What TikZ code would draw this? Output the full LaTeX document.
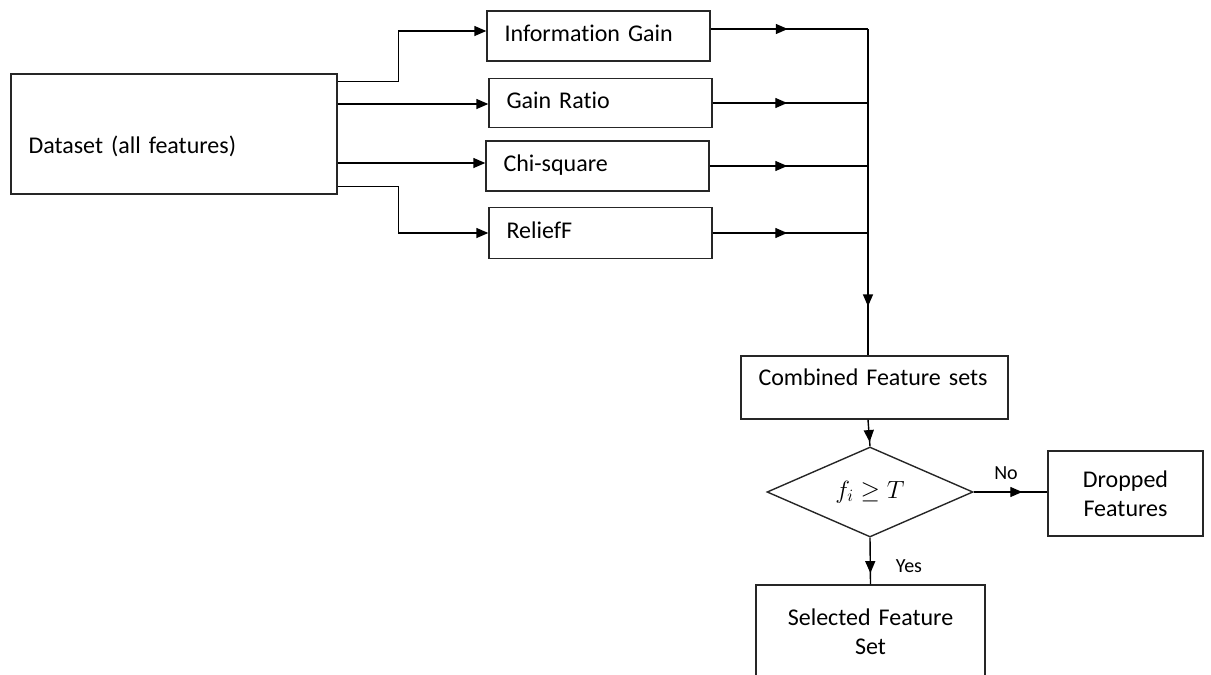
\documentclass[tikz,border=0pt]{standalone}
\usepackage{fontspec}
\setmainfont[Ligatures=NoCommon]{Carlito}
\usetikzlibrary{arrows.meta,calc,shapes.geometric,decorations.markings}
\begin{document}
\begin{tikzpicture}[x=1pt,y=-1pt,
  box/.style={draw=black!85, line width=1.4pt, inner ysep=0pt, inner xsep=17.5pt, align=left, font=\fontsize{24}{29}\selectfont},
  smallbox/.style={box, minimum width=223pt, text width=188pt, text height=16pt, text depth=6pt},
  conn/.style={draw=black, line width=1.4pt},
  arr/.style={conn, -{Triangle[length=12pt,width=10pt]}},
  midarr/.style={conn, postaction={decorate}, decoration={markings, mark=at position #1 with {\arrow{Triangle[length=12pt,width=10pt]}}}},
  lbl/.style={font=\fontsize{20}{24}\selectfont, inner sep=0pt}
]
\useasboundingbox (0,0) rectangle (1211,675);
\clip (0,0) rectangle (1211,675);

% nodes
\node[box, minimum width=326pt, minimum height=120pt, text width=291pt, text height=38pt, text depth=0pt] (DS) at (174,134) {Dataset (all features)};
\node[smallbox, minimum height=50pt] (IG) at (598.5,36) {Information Gain};
\node[smallbox, minimum height=49pt] (GR) at (600.5,103) {Gain Ratio};
\node[smallbox, minimum height=50pt] (CS) at (597.5,166) {Chi-square};
\node[smallbox, minimum height=51pt] (RF) at (600.5,233) {ReliefF};
\node[box, minimum width=267pt, text width=232pt, minimum height=63pt, text height=0pt, text depth=5pt] (CF) at (874.5,387.5) {Combined Feature sets};
\node[draw=black!85, line width=1.4pt, diamond, aspect=2.29, minimum width=206pt, minimum height=90pt, inner sep=0pt, font=\fontsize{25}{30}\selectfont] (D) at (870,492) {$f_i \geq T$};
\node[box, align=center, minimum width=155pt, text width=120pt, minimum height=85pt] (DR) at (1125.5,493.5) {Dropped\\Features};
\node[box, align=center, minimum width=229pt, text width=194pt, minimum height=110pt, text height=0pt] (SF) at (870.5,640) {Selected Feature\\Set};
\node[lbl] (no) at (1006,473) {No};
\node[lbl] (yes) at (909,566) {Yes};

% left connectors
\draw[arr] ($(DS.north east)+(0,8)$) -- ++(61,0) |- ($(IG.west)+(0,-5)$);
\draw[arr] ($(DS.east)+(0,-30)$) -- ($(GR.west)+(0,1)$);
\draw[arr] ($(DS.east)+(0,29)$) -- ($(CS.west)+(0,-3)$);
\draw[arr] ($(DS.south east)+(0,-8)$) -- ++(61,0) |- (RF.west);

% right connectors
\coordinate (J1) at (868,29);
\coordinate (J2) at (868,103);
\coordinate (J3) at (868,166);
\coordinate (J4) at (868,233);
\draw[midarr=0.49] ($(IG.east)+(0,-7)$) -- (J1);
\draw[midarr=0.48] (GR.east) -- (J2);
\draw[midarr=0.49] (CS.east) -- (J3);
\draw[midarr=0.48] (RF.east) -- (J4);
\draw[midarr=0.85] (J1) -- ($(CF.north)+(-6.5,0)$);

% lower connectors
\draw[midarr=0.84] ($(CF.south)+(-6.5,0)$) -- (D.north);
\draw[midarr=0.66] (D.east) -- (DR.west |- D.east);
\draw[midarr=0.76] (D.south) -- (SF.north);
\end{tikzpicture}
\end{document}
